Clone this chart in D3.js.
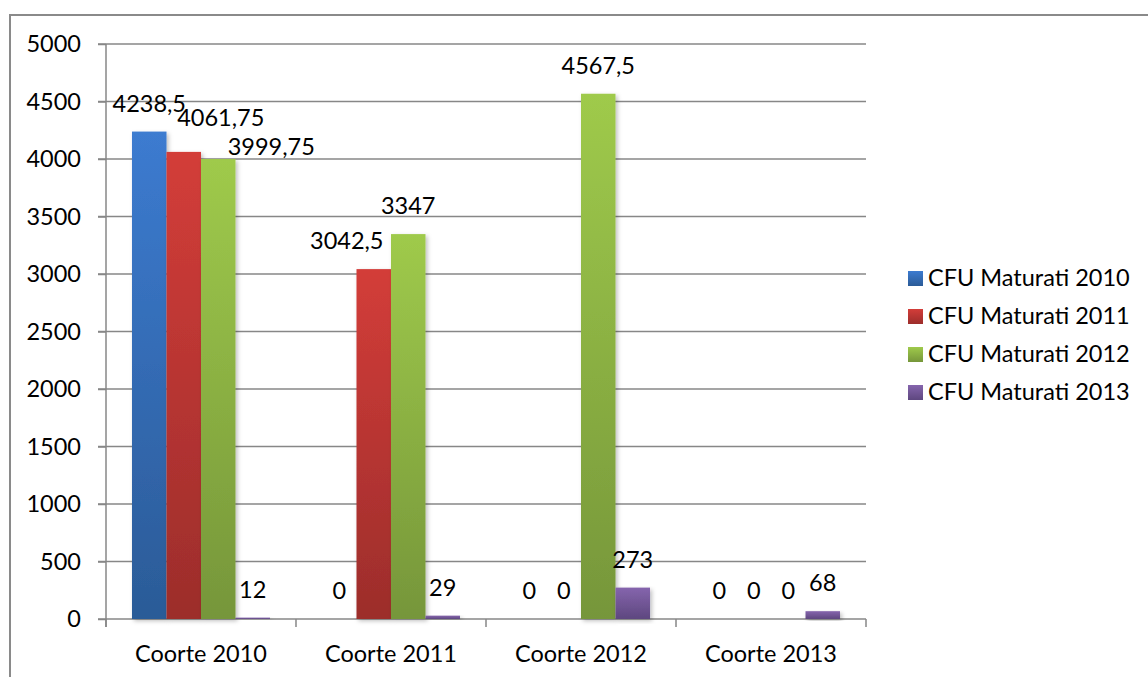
<!DOCTYPE html>
<html>
<head>
<meta charset="utf-8">
<script src="https://cdn.jsdelivr.net/npm/d3@7"></script>
<style>
  body { margin: 0; background: #fff; }
  svg { display: block; font-family: Lato, 'Open Sans', sans-serif; }
  .grid line, .axis line, .axis path { stroke: #878787; stroke-width: 1.5; }
  text { fill: #000; }
</style>
</head>
<body>
<svg width="1148" height="677"></svg>
<script>
(function (d3) {
    'use strict';

    // data
    const categories = ['Coorte 2010', 'Coorte 2011', 'Coorte 2012', 'Coorte 2013'];
    const seriesNames = ['CFU Maturati 2010', 'CFU Maturati 2011', 'CFU Maturati 2012', 'CFU Maturati 2013'];
    const cfu2010 = [4238.5, 0, 0, 0];
    const cfu2011 = [4061.75, 3042.5, 0, 0];
    const cfu2012 = [3999.75, 3347, 4567.5, 0];
    const cfu2013 = [12, 29, 273, 68];
    const yTicks = [0, 500, 1000, 1500, 2000, 2500, 3000, 3500, 4000, 4500, 5000];

    const seriesValues = [cfu2010, cfu2011, cfu2012, cfu2013];
    // top / bottom gradient stops
    const colors = [
        ['#3c7bd0', '#2b5b97'],
        ['#d33d39', '#9c2d2b'],
        ['#9fca4b', '#76963a'],
        ['#8565ad', '#5e477f']
    ];
    const fontSize = 23.5;

    // Excel shifted a few labels to avoid overlaps (pixel nudges, key = series-category)
    const labelNudge = {
        '1-0': [37, -6],
        '2-0': [53, 16],
        '1-1': [-27, 0]
    };

    const svg = d3.select('svg');
    const margin = { left: 106, right: 282, top: 44, bottom: 58 };
    const width = +svg.attr('width');
    const height = +svg.attr('height');

    // outer chart border
    svg.append('rect')
        .attr('x', 10).attr('y', 15)
        .attr('width', width).attr('height', height)
        .attr('fill', 'none')
        .attr('stroke', '#8a8a8a')
        .attr('stroke-width', 2);

    const defs = svg.append('defs');
    colors.forEach((c, i) => {
        const grad = defs.append('linearGradient')
            .attr('id', 'grad' + i)
            .attr('x1', 0).attr('y1', 0).attr('x2', 0).attr('y2', 1);
        grad.append('stop').attr('offset', '0%').attr('stop-color', c[0]);
        grad.append('stop').attr('offset', '100%').attr('stop-color', c[1]);
    });
    const shadow = defs.append('filter').attr('id', 'shadow')
        .attr('x', '-20%').attr('y', '-5%').attr('width', '150%').attr('height', '120%');
    shadow.append('feDropShadow')
        .attr('dx', 2).attr('dy', 2).attr('stdDeviation', 2)
        .attr('flood-color', '#000').attr('flood-opacity', 0.25);

    const x0 = d3.scaleBand()
        .domain(categories)
        .range([margin.left, width - margin.right])
        .paddingInner(0.2737)
        .paddingOuter(0.1368);

    const x1 = d3.scaleBand()
        .domain(d3.range(seriesNames.length))
        .range([0, x0.bandwidth()]);

    const y = d3.scaleLinear()
        .domain([0, 5000])
        .range([height - margin.bottom, margin.top]);

    // gridlines
    svg.append('g')
        .attr('class', 'grid')
        .selectAll('line').data(yTicks.filter(d => d > 0))
        .enter().append('line')
        .attr('x1', margin.left - 8)
        .attr('x2', width - margin.right)
        .attr('y1', y).attr('y2', y);

    // y axis
    const yAxisG = svg.append('g')
        .attr('class', 'axis')
        .attr('transform', `translate(${margin.left},0)`)
        .call(d3.axisLeft(y).tickValues(yTicks).tickFormat(d3.format('d'))
            .tickSize(8).tickPadding(17));
    yAxisG.select('.domain').attr('d', `M0,${y(5000)}V${y(0) + 8}`);
    yAxisG.selectAll('text')
        .attr('font-size', fontSize)
        .attr('font-family', 'Lato, sans-serif')
        .attr('fill', '#000');

    // x axis with ticks on category boundaries
    const xAxisG = svg.append('g')
        .attr('class', 'axis')
        .attr('transform', `translate(0,${y(0)})`);
    xAxisG.append('line')
        .attr('x1', margin.left - 8).attr('x2', width - margin.right);
    const bounds = categories.map(c => x0(c) - x0.step() * x0.paddingInner() / 2)
        .concat([width - margin.right]);
    xAxisG.selectAll('line.tick').data(bounds)
        .enter().append('line')
        .attr('class', 'tick')
        .attr('x1', d => d).attr('x2', d => d)
        .attr('y1', 0).attr('y2', 8);
    xAxisG.selectAll('text').data(categories)
        .enter().append('text')
        .attr('x', d => x0(d) + x0.bandwidth() / 2)
        .attr('y', 43)
        .attr('text-anchor', 'middle')
        .attr('font-size', fontSize)
        .text(d => d);

    // bars
    const points = [];
    categories.forEach((c, ci) => {
        seriesValues.forEach((vals, si) => {
            points.push({ cat: c, ci, si, value: vals[ci] });
        });
    });

    svg.append('g')
        .selectAll('rect').data(points.filter(d => d.value > 0))
        .enter().append('rect')
        .attr('x', d => x0(d.cat) + x1(d.si))
        .attr('y', d => y(d.value))
        .attr('width', x1.bandwidth())
        .attr('height', d => y(0) - y(d.value))
        .attr('fill', d => `url(#grad${d.si})`)
        .attr('filter', 'url(#shadow)');

    // value labels
    const fmt = v => String(v).replace('.', ',');
    svg.append('g')
        .selectAll('text').data(points)
        .enter().append('text')
        .attr('x', d => x0(d.cat) + x1(d.si) + x1.bandwidth() / 2
            + (labelNudge[d.si + '-' + d.ci] || [0, 0])[0])
        .attr('y', d => y(d.value) - 20
            + (labelNudge[d.si + '-' + d.ci] || [0, 0])[1])
        .attr('text-anchor', 'middle')
        .attr('font-size', fontSize)
        .text(d => fmt(d.value));

    // legend
    const legend = svg.append('g')
        .attr('transform', `translate(908,271)`);
    const rows = legend.selectAll('g').data(seriesNames)
        .enter().append('g')
        .attr('transform', (d, i) => `translate(0,${i * 38})`);
    rows.append('rect')
        .attr('width', 15).attr('height', 15)
        .attr('fill', (d, i) => `url(#grad${i})`);
    rows.append('text')
        .attr('x', 20).attr('y', 15)
        .attr('font-size', fontSize)
        .text(d => d);

}(d3));
</script>
</body>
</html>
